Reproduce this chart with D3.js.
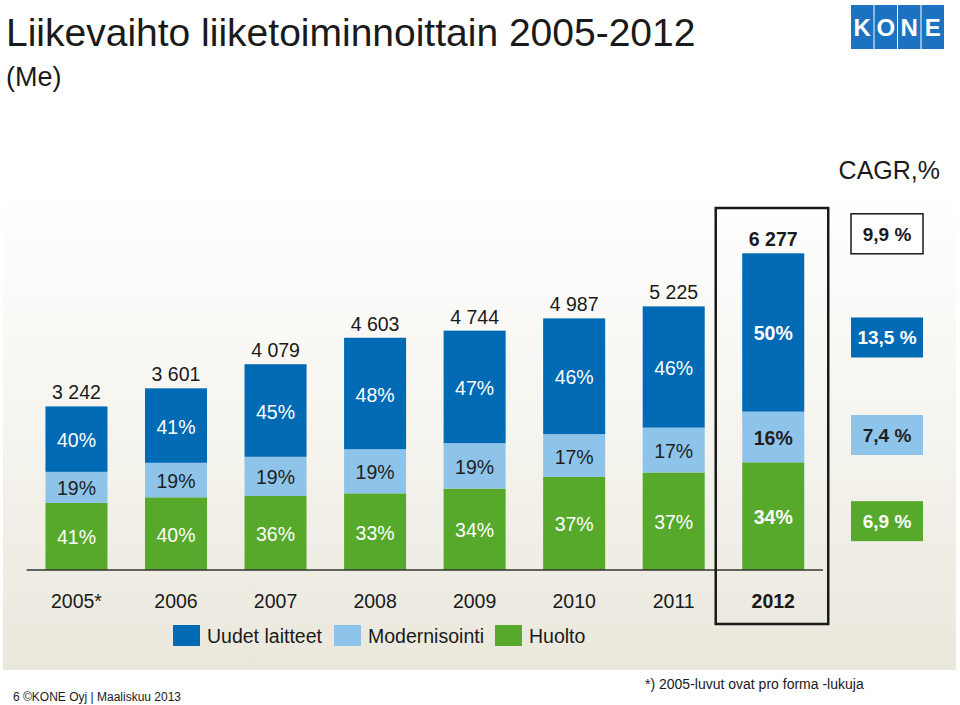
<!DOCTYPE html>
<html><head><meta charset="utf-8">
<script src="https://cdn.jsdelivr.net/npm/d3@7/dist/d3.min.js"></script>
<style>
html,body{margin:0;padding:0;background:#fff;}
svg{display:block;font-family:"Liberation Sans",Arial,Helvetica,sans-serif;}
</style></head>
<body>
<svg id="chart" width="960" height="705"></svg>
<script>
// ---- data ----
const years = ["2005*","2006","2007","2008","2009","2010","2011","2012"];
const totals = [3242, 3601, 4079, 4603, 4744, 4987, 5225, 6277];
const newEquipmentPct = [40, 41, 45, 48, 47, 46, 46, 50];   // Uudet laitteet
const modernizationPct = [19, 19, 19, 19, 19, 17, 17, 16];  // Modernisointi
const maintenancePct = [41, 40, 36, 33, 34, 37, 37, 34];    // Huolto
const seriesNames = ["Uudet laitteet", "Modernisointi", "Huolto"];
const cagrTotal = 9.9;
const cagrSeries = [13.5, 7.4, 6.9]; // Uudet laitteet, Modernisointi, Huolto
const highlightYear = "2012";

const colors = {"Uudet laitteet":"#006ab5", "Modernisointi":"#8ec4e9", "Huolto":"#57a92c"};
const labelColors = {"Uudet laitteet":"#ffffff", "Modernisointi":"#1e1e1e", "Huolto":"#ffffff"};

const svg = d3.select("#chart");
const fmtThousands = d3.formatLocale({decimal:",", thousands:"\u00a0", grouping:[3], currency:["","€"]}).format(",d");
const fmtComma = v => d3.format(".1f")(v).replace(".", ",") + " %";

// ---- background panel ----
const defs = svg.append("defs");
const grad = defs.append("linearGradient").attr("id","bg").attr("x1",0).attr("y1",0).attr("x2",0).attr("y2",1);
grad.append("stop").attr("offset","0%").attr("stop-color","#ffffff");
grad.append("stop").attr("offset","45%").attr("stop-color","#f6f5f0");
grad.append("stop").attr("offset","100%").attr("stop-color","#eae8dc");
svg.append("rect").attr("x",3).attr("y",193).attr("width",953).attr("height",477).attr("fill","url(#bg)");

// ---- title ----
svg.append("text").attr("x",6).attr("y",46).attr("font-size",39).attr("fill","#1a1a1a")
  .text("Liikevaihto liiketoiminnoittain 2005-2012");
svg.append("text").attr("x",6).attr("y",86).attr("font-size",27).attr("fill","#1a1a1a").text("(Me)");
svg.append("text").attr("x",940).attr("y",179).attr("font-size",25).attr("text-anchor","end").attr("fill","#1a1a1a").text("CAGR,%");

// ---- logo ----
const logo = svg.append("g");
["K","O","N","E"].forEach((ch,i)=>{
  const lx = 851 + i*23.5;
  logo.append("rect").attr("x",lx).attr("y",5).attr("width",22.5).attr("height",44).attr("fill","#1a72c0");
  logo.append("text").attr("x",lx+11.25).attr("y",36).attr("text-anchor","middle").attr("font-size",24)
    .attr("font-weight","bold").attr("fill","#fff").text(ch);
});

// ---- scales ----
const x = d3.scaleBand().domain(years).range([26.7, 823]).paddingInner(0.377).paddingOuter(0.1885);
const y = d3.scaleLinear().domain([0, 6277]).range([570, 253.3]);

const rows = years.map((yr,i)=>({
  year: yr, total: totals[i],
  "Huolto": totals[i]*maintenancePct[i]/100,
  "Modernisointi": totals[i]*modernizationPct[i]/100,
  "Uudet laitteet": totals[i]*newEquipmentPct[i]/100,
  pct: {"Uudet laitteet": newEquipmentPct[i], "Modernisointi": modernizationPct[i], "Huolto": maintenancePct[i]}
}));
const stack = d3.stack().keys(["Huolto","Modernisointi","Uudet laitteet"]);
const layers = stack(rows);

const gBars = svg.append("g");
layers.forEach(layer=>{
  const key = layer.key;
  gBars.selectAll(null).data(layer).enter().append("rect")
    .attr("x", d=>x(d.data.year)).attr("width", x.bandwidth())
    .attr("y", d=>y(d[1])).attr("height", d=>y(d[0])-y(d[1]))
    .attr("fill", colors[key]);
  gBars.selectAll(null).data(layer).enter().append("text")
    .attr("x", d=>x(d.data.year)+x.bandwidth()/2)
    .attr("y", d=>(y(d[0])+y(d[1]))/2 + 1)
    .attr("dy","0.36em").attr("text-anchor","middle").attr("font-size",19.5)
    .attr("font-weight", d=>d.data.year===highlightYear?"bold":"normal")
    .attr("fill", labelColors[key])
    .text(d=>d.data.pct[key]+"%");
});

// totals
svg.append("g").selectAll("text").data(rows).enter().append("text")
  .attr("x", d=>x(d.year)+x.bandwidth()/2).attr("y", d=>y(d.total)-7)
  .attr("text-anchor","middle").attr("font-size",19.5).attr("fill","#1a1a1a")
  .attr("font-weight", d=>d.year===highlightYear?"bold":"normal")
  .text(d=>fmtThousands(d.total));

// axis
const xAxis = d3.axisBottom(x).tickSize(0).tickPadding(0);
const gx = svg.append("g").attr("transform","translate(0,570)").call(xAxis);
gx.select(".domain").attr("stroke","#333").attr("stroke-width",1.5).attr("d","M26.7,0H823");
gx.selectAll(".tick text").attr("font-size",19.5).attr("fill","#1a1a1a")
  .attr("font-family","'Liberation Sans',Arial,sans-serif")
  .attr("y",38).attr("dy",0)
  .attr("font-weight", d=>d===highlightYear?"bold":"normal");

// highlight box
const hx = x(highlightYear)+x.bandwidth()/2;
svg.append("rect").attr("x",hx-57.5).attr("y",208).attr("width",112.5).attr("height",416)
  .attr("fill","none").attr("stroke","#1a1a1a").attr("stroke-width",2.5);

// CAGR boxes
const last = rows[rows.length-1];
const lastLayers = {};
layers.forEach(l=>{ lastLayers[l.key] = l[l.length-1]; });
const cagrItems = [
  {label: fmtComma(cagrTotal), cy: y(last.total)-19.5, fill:"#ffffff", stroke:"#1a1a1a", text:"#1a1a1a"},
  {label: fmtComma(cagrSeries[0]), cy:(y(lastLayers["Uudet laitteet"][0])+y(lastLayers["Uudet laitteet"][1]))/2+5, fill:colors["Uudet laitteet"], stroke:"none", text:"#fff"},
  {label: fmtComma(cagrSeries[1]), cy:(y(lastLayers["Modernisointi"][0])+y(lastLayers["Modernisointi"][1]))/2-2, fill:colors["Modernisointi"], stroke:"none", text:"#1e1e1e"},
  {label: fmtComma(cagrSeries[2]), cy:(y(lastLayers["Huolto"][0])+y(lastLayers["Huolto"][1]))/2+5, fill:colors["Huolto"], stroke:"none", text:"#fff"}
];
const gC = svg.append("g");
cagrItems.forEach(c=>{
  gC.append("rect").attr("x",851).attr("y",c.cy-20).attr("width",72).attr("height",40)
    .attr("fill",c.fill).attr("stroke",c.stroke).attr("stroke-width",c.stroke==="none"?0:1.5);
  gC.append("text").attr("x",887).attr("y",c.cy).attr("dy","0.36em").attr("text-anchor","middle")
    .attr("font-size",19).attr("font-weight","bold").attr("fill",c.text).text(c.label);
});

// legend
const legX = [173, 334, 495];
const gL = svg.append("g");
seriesNames.forEach((n,i)=>{
  gL.append("rect").attr("x",legX[i]).attr("y",625).attr("width",27).attr("height",21).attr("fill",colors[n]);
  gL.append("text").attr("x",legX[i]+34).attr("y",636).attr("dy","0.36em").attr("font-size",19.5)
    .attr("fill","#1a1a1a").text(n);
});

// footer
svg.append("text").attr("x",645).attr("y",689).attr("font-size",14).attr("fill","#1a1a1a")
  .text("*) 2005-luvut ovat pro forma -lukuja");
svg.append("text").attr("x",13).attr("y",701).attr("font-size",12).attr("fill","#1a1a1a")
  .text("6 ©KONE Oyj | Maaliskuu 2013");
</script>
</body></html>
